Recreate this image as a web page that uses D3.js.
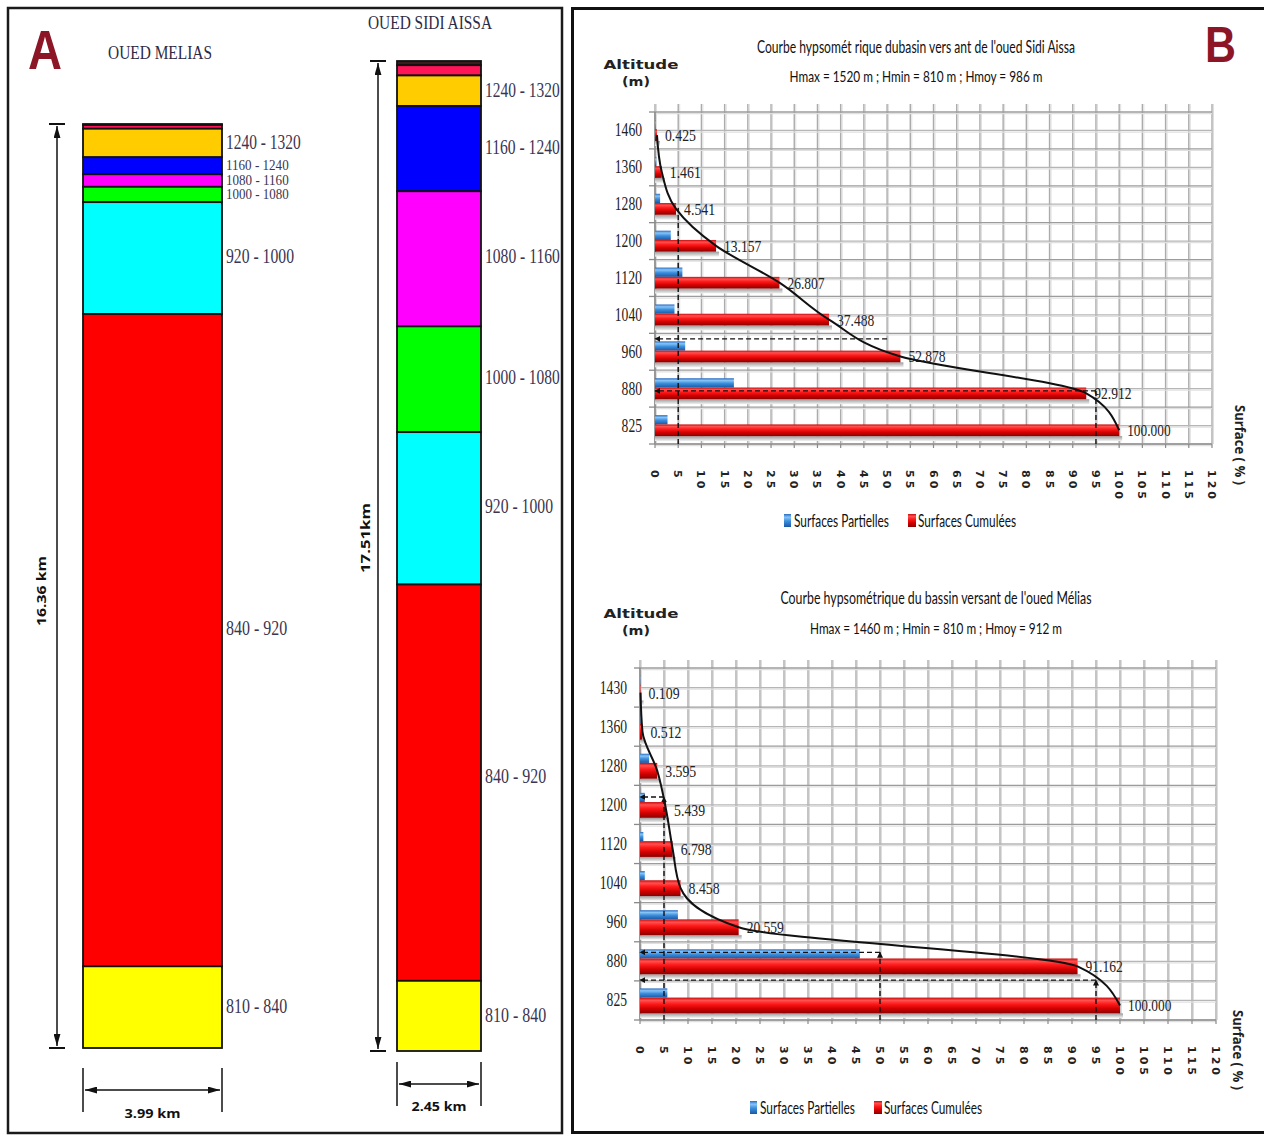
<!DOCTYPE html>
<html>
<head>
<meta charset="utf-8">
<script src="https://cdn.jsdelivr.net/npm/d3@7"></script>
<style>
  body { margin: 0; background: #fff; }
  svg { display: block; }
</style>
</head>
<body>
<svg id="fig" width="1264" height="1135"></svg>
<script>
// ---- Altitude classes (m) and surfaces (%) ----
const sidiAltitudes   = ["1460", "1360", "1280", "1200", "1120", "1040", "960", "880", "825"];
const sidiCumulative  = [0.425, 1.461, 4.541, 13.157, 26.807, 37.488, 52.878, 92.912, 100.000];
const sidiPartial     = [0.1, 0.3, 1.1, 3.4, 5.9, 4.2, 6.5, 17.0, 2.7];

const meliasAltitudes  = ["1430", "1360", "1280", "1200", "1120", "1040", "960", "880", "825"];
const meliasCumulative = [0.109, 0.512, 3.595, 5.439, 6.798, 8.458, 20.559, 91.162, 100.000];
const meliasPartial    = [0.05, 0.1, 1.9, 1.0, 0.7, 1.0, 7.9, 45.8, 5.7];

// elevation bands of the equivalent rectangles (top two bands left unlabelled)
const classRanges = [null, null, "1240 - 1320", "1160 - 1240", "1080 - 1160", "1000 - 1080", "920 - 1000", "840 - 920", "810 - 840"];
const classColors = ["#3a1c1c", "#ff1458", "#ffcc00", "#0000ff", "#ff00ff", "#00ff00", "#00ffff", "#ff0000", "#ffff00"];

const surfaceTicks = d3.range(0, 121, 5);

// reading guides (x in %, y in row units from the top of the plot)
const sidiGuides = [
  { from: [5, 9],     to: [5, 2.6],   arrow: false },
  { from: [50, 6.15], to: [0, 6.15],  arrow: true },
  { from: [95, 7.56], to: [0, 7.56],  arrow: true },
  { from: [95, 9],    to: [95, 7.56], arrow: false }
];
const meliasGuides = [
  { from: [5, 9],     to: [5, 3.3],   arrow: true },
  { from: [5, 3.3],   to: [0, 3.3],   arrow: true },
  { from: [50, 9],    to: [50, 7.27], arrow: true },
  { from: [50, 7.27], to: [0, 7.27],  arrow: true },
  { from: [95, 9],    to: [95, 7.98], arrow: true },
  { from: [95, 7.98], to: [0, 7.98],  arrow: true }
];

const fmt = d3.format(".3f");
const svg = d3.select("#fig");
const defs = svg.append("defs");

function vGrad(id, stops) {
  const g = defs.append("linearGradient").attr("id", id)
    .attr("x1", 0).attr("y1", 0).attr("x2", 0).attr("y2", 1);
  stops.forEach(([o, c]) => g.append("stop").attr("offset", o).attr("stop-color", c));
}
vGrad("gRed",    [[0, "#c80c0c"], [0.18, "#ff5050"], [0.4, "#ff1a1a"], [0.7, "#d00000"], [1, "#8a0000"]]);
vGrad("gBlue",   [[0, "#2a6cc0"], [0.25, "#86c4f6"], [0.55, "#3c8ede"], [1, "#1a58a2"]]);
vGrad("gShadow", [[0, "#9c9c9c"], [1, "#f2f2f2"]]);

defs.append("marker").attr("id", "guideArrow")
  .attr("viewBox", "0 0 10 10").attr("refX", 9).attr("refY", 5)
  .attr("markerWidth", 6).attr("markerHeight", 6).attr("markerUnits", "userSpaceOnUse")
  .attr("orient", "auto")
  .append("path").attr("d", "M0,0L10,5L0,10z").attr("fill", "#111");

defs.append("marker").attr("id", "dimArrow")
  .attr("viewBox", "0 0 14 8").attr("refX", 14).attr("refY", 4)
  .attr("markerWidth", 12).attr("markerHeight", 7).attr("markerUnits", "userSpaceOnUse")
  .attr("orient", "auto-start-reverse")
  .append("path").attr("d", "M0,0L14,4L0,8z").attr("fill", "#111");

function fitText(sel, str, width) {
  sel.text(str);
  if (width) sel.attr("textLength", width).attr("lengthAdjust", "spacingAndGlyphs");
  return sel;
}

// =================== Panel A : equivalent rectangles ===================
const A = svg.append("g");
A.append("rect").attr("x", 8).attr("y", 8).attr("width", 554).attr("height", 1125)
  .attr("fill", "none").attr("stroke", "#1a1a1a").attr("stroke-width", 2.5);
fitText(A.append("text").attr("x", 28).attr("y", 69)
  .attr("font-family", "Liberation Sans").attr("font-weight", 700).attr("font-size", 55)
  .attr("fill", "#8c1526"), "A", 34);

const basins = [
  { title: "OUED MELIAS", titleX: 160, titleY: 59, titleW: 104, cum: meliasCumulative,
    x0: 83, x1: 222, y0: 124, y1: 1048, dimX: 57, len: "16.36 km", lenLabelX: 46, lenLabelY: 591, lenW: 70,
    wid: "3.99 km", widY: 1090, widLabelY: 1118, widW: 56 },
  { title: "OUED SIDI AISSA", titleX: 430, titleY: 29, titleW: 124, cum: sidiCumulative,
    x0: 397, x1: 481, y0: 61, y1: 1051, dimX: 378, len: "17.51km", lenLabelX: 370, lenLabelY: 538, lenW: 70,
    wid: "2.45 km", widY: 1084, widLabelY: 1111, widW: 55 }
];

basins.forEach(b => {
  const y = d3.scaleLinear().domain([0, 100]).range([b.y0, b.y1]);
  const layers = b.cum.map((c, i) => ({ i, from: i ? b.cum[i - 1] : 0, to: c }));

  fitText(A.append("text").attr("x", b.titleX).attr("y", b.titleY).attr("text-anchor", "middle")
    .attr("font-family", "Liberation Serif").attr("font-size", 19).attr("fill", "#2c2a44"),
    b.title, b.titleW);

  A.append("g").selectAll("rect").data(layers).join("rect")
    .attr("x", b.x0).attr("width", b.x1 - b.x0)
    .attr("y", d => y(d.from)).attr("height", d => y(d.to) - y(d.from))
    .attr("fill", d => classColors[d.i])
    .attr("stroke", "#111").attr("stroke-width", 1.8);

  layers.filter(d => classRanges[d.i]).forEach(d => {
    const h = y(d.to) - y(d.from);
    const small = h < 20;
    const s = classRanges[d.i];
    fitText(A.append("text").attr("x", b.x1 + 4).attr("y", (y(d.from) + y(d.to)) / 2 - 0.018 * h)
      .attr("dy", "0.35em").attr("font-family", "Liberation Serif")
      .attr("font-size", small ? 14 : 20).attr("fill", "#3b3551"),
      s, s.length * (small ? 5.7 : 6.8));
  });

  // basin length
  A.append("line").attr("x1", b.dimX).attr("x2", b.dimX).attr("y1", b.y0 + 2).attr("y2", b.y1 - 2)
    .attr("stroke", "#111").attr("stroke-width", 1.5)
    .attr("marker-start", "url(#dimArrow)").attr("marker-end", "url(#dimArrow)");
  [b.y0, b.y1].forEach(v => A.append("line").attr("x1", b.dimX - 8).attr("x2", b.dimX + 8)
    .attr("y1", v).attr("y2", v).attr("stroke", "#111").attr("stroke-width", 2));
  fitText(A.append("text")
    .attr("transform", `translate(${b.lenLabelX},${b.lenLabelY}) rotate(-90)`)
    .attr("text-anchor", "middle").attr("font-family", "Open Sans").attr("font-weight", 700)
    .attr("font-size", 13).attr("fill", "#111"), b.len, b.lenW);

  // basin width
  [b.x0, b.x1].forEach(v => A.append("line").attr("x1", v).attr("x2", v)
    .attr("y1", b.widY - 22).attr("y2", b.widY + 22).attr("stroke", "#111").attr("stroke-width", 1.5));
  A.append("line").attr("x1", b.x0 + 2).attr("x2", b.x1 - 2).attr("y1", b.widY).attr("y2", b.widY)
    .attr("stroke", "#111").attr("stroke-width", 1.5)
    .attr("marker-start", "url(#dimArrow)").attr("marker-end", "url(#dimArrow)");
  fitText(A.append("text").attr("x", (b.x0 + b.x1) / 2).attr("y", b.widLabelY)
    .attr("text-anchor", "middle").attr("font-family", "Open Sans").attr("font-weight", 700)
    .attr("font-size", 13).attr("fill", "#111"), b.wid, b.widW);
});

// =================== Panel B : hypsometric curves ===================
const B = svg.append("g");
B.append("rect").attr("x", 572.5).attr("y", 8.5).attr("width", 700).attr("height", 1124)
  .attr("fill", "none").attr("stroke", "#111").attr("stroke-width", 3);
fitText(B.append("text").attr("x", 1205).attr("y", 62)
  .attr("font-family", "Liberation Sans").attr("font-weight", 700).attr("font-size", 50)
  .attr("fill", "#8c1526"), "B", 31);

const charts = [
  { title: "Courbe hypsomét rique dubasin vers ant de l'oued Sidi Aissa", titleW: 318, titleY: 53, titleCX: 916,
    sub: "Hmax = 1520 m ; Hmin = 810 m ; Hmoy = 986 m", subW: 253, subY: 82,
    altY: 69, alts: sidiAltitudes, cum: sidiCumulative, part: sidiPartial,
    left: 655, right: 1212, top: 112, bottom: 444, gridTop: 104,
    blue: [0.217, 0.469], red: [0.469, 0.786], shade: 0.92,
    tickLabelY: 470, surfX: 1240, surfY: 405, legendY: 521, legendX: 784, guides: sidiGuides },
  { title: "Courbe hypsométrique du bassin versant de l'oued Mélias", titleW: 311, titleY: 604, titleCX: 936,
    sub: "Hmax = 1460 m ; Hmin = 810 m ; Hmoy = 912 m", subW: 252, subY: 634,
    altY: 618, alts: meliasAltitudes, cum: meliasCumulative, part: meliasPartial,
    left: 640, right: 1216, top: 668, bottom: 1020, gridTop: 660,
    blue: [0.192, 0.427], red: [0.427, 0.831], shade: 0.946,
    tickLabelY: 1046, surfX: 1238, surfY: 1010, legendY: 1108, legendX: 750, guides: meliasGuides }
];

charts.forEach(c => {
  const g = B.append("g");
  const x = d3.scaleLinear().domain([0, 120]).range([c.left, c.right]);
  const band = d3.scaleBand().domain(c.alts).range([c.top, c.bottom]).padding(0);
  const rows = d3.scaleLinear().domain([0, c.alts.length]).range([c.top, c.bottom]);
  const bh = band.bandwidth();

  // titles
  fitText(g.append("text").attr("x", c.titleCX).attr("y", c.titleY).attr("text-anchor", "middle")
    .attr("font-family", "Lato").attr("font-size", 17).attr("fill", "#111"), c.title, c.titleW);
  fitText(g.append("text").attr("x", c.titleCX).attr("y", c.subY).attr("text-anchor", "middle")
    .attr("font-family", "Lato").attr("font-size", 16).attr("fill", "#111"), c.sub, c.subW);
  fitText(g.append("text").attr("x", 641).attr("y", c.altY).attr("text-anchor", "middle")
    .attr("font-family", "DejaVu Sans").attr("font-weight", 700).attr("font-size", 12.5)
    .attr("fill", "#222"), "Altitude", 75);
  fitText(g.append("text").attr("x", 636).attr("y", c.altY + 17).attr("text-anchor", "middle")
    .attr("font-family", "DejaVu Sans").attr("font-weight", 700).attr("font-size", 12.5)
    .attr("fill", "#222"), "(m)", 28);

  // grid
  const grid = g.append("g");
  grid.selectAll(".v").data(surfaceTicks).join("line")
    .attr("x1", d => x(d) + 1.5).attr("x2", d => x(d) + 1.5)
    .attr("y1", c.gridTop).attr("y2", c.bottom).attr("stroke", "#dedede").attr("stroke-width", 1);
  grid.selectAll(".vv").data(surfaceTicks).join("line")
    .attr("x1", d => x(d)).attr("x2", d => x(d))
    .attr("y1", c.gridTop).attr("y2", c.bottom).attr("stroke", "#ababab").attr("stroke-width", 1.4);
  const halfRows = d3.range(0, c.alts.length + 0.01, 0.5);
  grid.selectAll(".h2").data(halfRows).join("line")
    .attr("x1", x(0)).attr("x2", x(120))
    .attr("y1", d => rows(d) + 1.6).attr("y2", d => rows(d) + 1.6)
    .attr("stroke", "#e0e0e0").attr("stroke-width", 1.2);
  grid.selectAll(".h").data(halfRows).join("line")
    .attr("x1", x(0)).attr("x2", x(120))
    .attr("y1", d => rows(d)).attr("y2", d => rows(d))
    .attr("stroke", d => Number.isInteger(d) ? "#9c9c9c" : "#b6b6b6").attr("stroke-width", 1.3);

  // axes
  g.append("line").attr("x1", x(0)).attr("x2", x(0)).attr("y1", c.top).attr("y2", c.bottom)
    .attr("stroke", "#8a8a8a").attr("stroke-width", 1.5);
  g.selectAll(".tk").data(d3.range(0, c.alts.length + 1)).join("line")
    .attr("x1", x(0) - 6).attr("x2", x(0)).attr("y1", d => rows(d)).attr("y2", d => rows(d))
    .attr("stroke", "#8a8a8a").attr("stroke-width", 1.3);
  g.append("line").attr("x1", x(0)).attr("x2", x(120)).attr("y1", c.bottom).attr("y2", c.bottom)
    .attr("stroke", "#9a9a9a").attr("stroke-width", 1.5);
  g.selectAll(".xt").data(surfaceTicks).join("line")
    .attr("x1", d => x(d)).attr("x2", d => x(d)).attr("y1", c.bottom).attr("y2", c.bottom + 4)
    .attr("stroke", "#8a8a8a").attr("stroke-width", 1.2);

  // altitude labels
  c.alts.forEach(a => {
    fitText(g.append("text").attr("x", x(0) - 13).attr("y", band(a) + bh / 2 + 6)
      .attr("text-anchor", "end").attr("font-family", "Liberation Serif").attr("font-size", 18)
      .attr("fill", "#222"), a, a.length * 6.8);
  });

  // surface tick labels (rotated)
  surfaceTicks.forEach(t => {
    g.append("text").attr("transform", `translate(${x(t)},${c.tickLabelY}) rotate(90)`)
      .attr("dy", "0.36em").attr("font-family", "DejaVu Sans").attr("font-weight", 700)
      .attr("font-size", 11).attr("letter-spacing", 3).attr("fill", "#222").text(t);
  });
  fitText(g.append("text").attr("transform", `translate(${c.surfX},${c.surfY}) rotate(90)`)
    .attr("dy", "0.36em").attr("font-family", "Open Sans").attr("font-weight", 700)
    .attr("font-size", 14).attr("fill", "#222"), "Surface ( % )", 80);

  // bars
  const bars = g.append("g");
  c.alts.forEach((a, i) => {
    const y0 = band(a);
    const rTop = y0 + c.red[0] * bh, rBot = y0 + c.red[1] * bh;
    bars.append("rect").attr("x", x(0)).attr("y", rBot)
      .attr("width", Math.max(0, x(c.cum[i]) - x(0) + 3)).attr("height", (c.shade - c.red[1]) * bh)
      .attr("fill", "url(#gShadow)");
    bars.append("rect").attr("x", x(0)).attr("y", y0 + c.blue[0] * bh)
      .attr("width", x(c.part[i]) - x(0)).attr("height", (c.blue[1] - c.blue[0]) * bh)
      .attr("fill", "url(#gBlue)");
    bars.append("rect").attr("x", x(0)).attr("y", rTop)
      .attr("width", x(c.cum[i]) - x(0)).attr("height", rBot - rTop)
      .attr("fill", "url(#gRed)");
    const s = fmt(c.cum[i]);
    fitText(bars.append("text").attr("x", x(c.cum[i]) + 8).attr("y", (rTop + rBot) / 2 + 6)
      .attr("font-family", "Liberation Serif").attr("font-size", 17).attr("fill", "#222"),
      s, s.length * 6.2);
  });

  // reading guides
  c.guides.forEach(d => {
    g.append("line")
      .attr("x1", x(d.from[0])).attr("y1", rows(d.from[1]))
      .attr("x2", x(d.to[0])).attr("y2", rows(d.to[1]))
      .attr("stroke", "#111").attr("stroke-width", 1.4).attr("stroke-dasharray", "5,3")
      .attr("marker-end", d.arrow ? "url(#guideArrow)" : null);
  });

  // hypsometric curve through the cumulative bar ends
  const pts = c.alts.map((a, i) => ({ v: c.cum[i], y: band(a) + (c.red[0] + c.red[1]) / 2 * bh }));
  g.append("path").datum(pts)
    .attr("d", d3.line().x(d => x(d.v)).y(d => d.y).curve(d3.curveMonotoneY))
    .attr("fill", "none").attr("stroke", "#111").attr("stroke-width", 2);

  // legend
  const lg = g.append("g");
  lg.append("rect").attr("x", c.legendX).attr("y", c.legendY - 7).attr("width", 7).attr("height", 13)
    .attr("fill", "url(#gBlue)");
  fitText(lg.append("text").attr("x", c.legendX + 10).attr("y", c.legendY + 6)
    .attr("font-family", "Lato").attr("font-size", 17).attr("fill", "#111"), "Surfaces Partielles", 95);
  lg.append("rect").attr("x", c.legendX + 124).attr("y", c.legendY - 7).attr("width", 8).attr("height", 13)
    .attr("fill", "url(#gRed)");
  fitText(lg.append("text").attr("x", c.legendX + 134).attr("y", c.legendY + 6)
    .attr("font-family", "Lato").attr("font-size", 17).attr("fill", "#111"), "Surfaces Cumulées", 98);
});
</script>
</body>
</html>
